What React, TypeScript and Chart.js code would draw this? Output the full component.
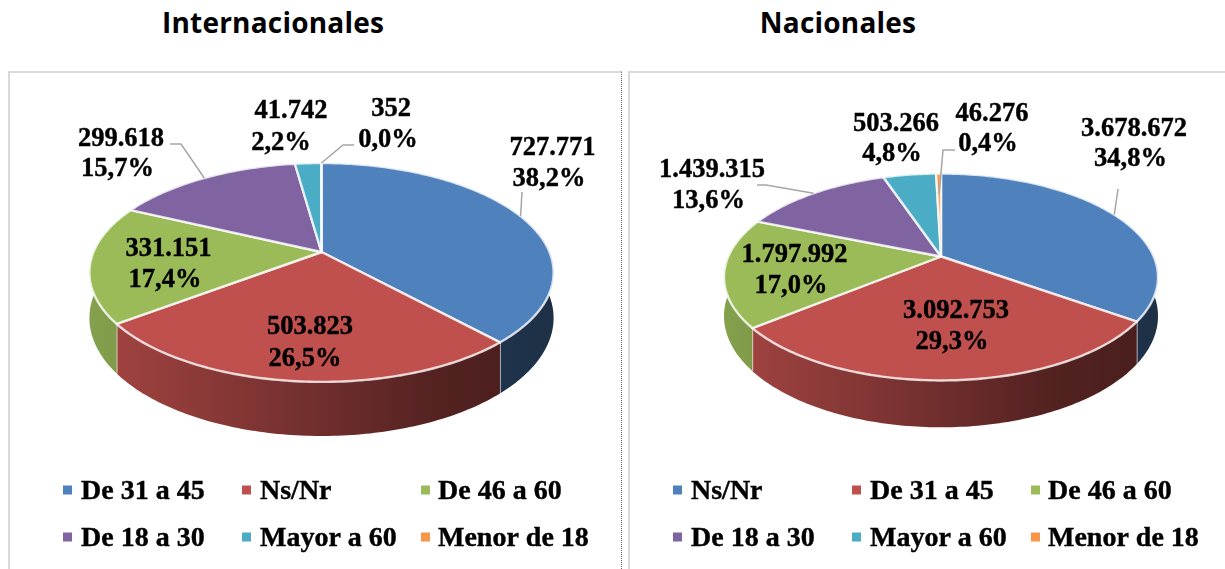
import React, { useEffect, useRef } from "react";
import { Chart, registerables, PieController } from "chart.js";

const labelsIntl = ["De 31 a 45", "Ns/Nr", "De 46 a 60", "De 18 a 30", "Mayor a 60", "Menor de 18"];
const valuesIntl = [727771, 503823, 331151, 299618, 41742, 352];
const labelsNac = ["Ns/Nr", "De 31 a 45", "De 46 a 60", "De 18 a 30", "Mayor a 60", "Menor de 18"];
const valuesNac = [3678672, 3092753, 1797992, 1439315, 503266, 46276];
const sliceColors = ["#4F81BD", "#C0504D", "#9BBB59", "#8064A2", "#4BACC6", "#F79646"];

type LabelPos = [number, number, number, number];
type Leader = { slice: number; radial: number; elbows: [number, number][] };
type Panel = {
  left: number; width: number; cx: number; cy: number; rx: number; a: number; k: number; depth: number;
  labelPos: LabelPos[]; leaders: Leader[]; legendMarkX: number[]; legendTextX: number[]; legendY: number[];
};

const panelIntl: Panel = {
  left: 0, width: 625, cx: 321.5, cy: 252, rx: 228, a: 105.6, k: 0.187, depth: 44,
  labelPos: [
    [552.5, 146, 549, 177], [310, 325, 305, 357], [168.5, 247, 165, 278],
    [121, 137, 117.5, 167], [291, 109, 281, 141], [391, 107, 388, 138],
  ],
  leaders: [
    { slice: 0, radial: 1, elbows: [[522, 192]] },
    { slice: 3, radial: 1, elbows: [[181, 144], [170, 144]] },
    { slice: 5, radial: 1, elbows: [[343, 145], [354, 145]] },
  ],
  legendMarkX: [63, 242, 421], legendTextX: [81, 260, 438], legendY: [490, 537],
};
const panelNac: Panel = {
  left: 625, width: 600, cx: 941, cy: 256.5, rx: 212.7, a: 99.4, k: 0.198, depth: 37.6,
  labelPos: [
    [1134, 127, 1130.5, 157], [956, 309, 952, 340], [794.5, 253, 791, 284],
    [712, 168, 708.5, 199], [896, 122, 892, 152], [992, 112, 988, 142],
  ],
  leaders: [
    { slice: 0, radial: 1, elbows: [[1118, 189]] },
    { slice: 3, radial: 1, elbows: [[766, 185], [757, 185]] },
    { slice: 5, radial: 0.72, elbows: [[943, 150], [955, 150]] },
  ],
  legendMarkX: [673, 852, 1031], legendTextX: [691, 870, 1048], legendY: [490, 537],
};

const project = (p: Panel, angle: number, r: number, drop = 0): [number, number] => {
  const u = Math.cos(angle) * r;
  const v = Math.sin(angle) * r;
  const w = 1 - p.k * v;
  return [p.cx - p.left + (p.rx * u) / w, p.cy + (p.a * v) / w + drop / w];
};

const shade = (hex: string, f: number) => {
  const n = parseInt(hex.slice(1), 16);
  return `rgb(${Math.round(((n >> 16) & 255) * f)},${Math.round(((n >> 8) & 255) * f)},${Math.round((n & 255) * f)})`;
};

class Pie3DController extends PieController {
  static id = "pie3d";
  draw() {
    const chart = this.chart as any;
    const p: Panel = chart.options.plugins.pie3dPanel;
    const ctx: CanvasRenderingContext2D = chart.ctx;
    const arcs = this._cachedMeta.data as any[];
    const colors = chart.data.datasets[0].backgroundColor as string[];
    const edge = "rgba(255,255,255,0.78)";
    const xL = p.cx - p.left - p.rx * 1.02;
    const xR = p.cx - p.left + p.rx * 1.02;
    ctx.save();
    ctx.lineJoin = "round";
    arcs.forEach((arc, i) => {
      const a0 = Math.max(arc.startAngle, -0.19);
      const a1 = Math.min(arc.endAngle, Math.PI + 0.19);
      if (a1 <= a0) return;
      const pts: [number, number][] = [];
      const steps = Math.max(2, Math.ceil((a1 - a0) * 60));
      for (let s = 0; s <= steps; s++) pts.push(project(p, a0 + ((a1 - a0) * s) / steps, 1));
      const low: [number, number][] = [];
      for (let s = steps; s >= 0; s--) low.push(project(p, a0 + ((a1 - a0) * s) / steps, 1, p.depth));
      const g = ctx.createLinearGradient(xL, 0, xR, 0);
      g.addColorStop(0, shade(colors[i], 0.86));
      g.addColorStop(0.5, shade(colors[i], 0.58));
      g.addColorStop(0.75, shade(colors[i], 0.43));
      g.addColorStop(1, shade(colors[i], 0.37));
      ctx.beginPath();
      [...pts, ...low].forEach(([x, y], j) => (j ? ctx.lineTo(x, y) : ctx.moveTo(x, y)));
      ctx.closePath();
      ctx.fillStyle = g;
      ctx.fill();
      if (a1 === arc.endAngle && a1 < Math.PI) {
        ctx.beginPath();
        ctx.moveTo(...pts[pts.length - 1]);
        ctx.lineTo(...low[0]);
        ctx.strokeStyle = edge;
        ctx.lineWidth = 1.5;
        ctx.stroke();
      }
    });
    arcs.forEach((arc, i) => {
      const span = arc.endAngle - arc.startAngle;
      const steps = Math.max(2, Math.ceil(span * 60));
      ctx.beginPath();
      ctx.moveTo(...project(p, 0, 0));
      for (let s = 0; s <= steps; s++) ctx.lineTo(...project(p, arc.startAngle + (span * s) / steps, 1));
      ctx.closePath();
      ctx.fillStyle = colors[i];
      ctx.fill();
      ctx.strokeStyle = edge;
      ctx.lineWidth = 2.4;
      ctx.stroke();
    });
    ctx.restore();
  }
}

Chart.register(...registerables, Pie3DController);

const fmtValue = (v: number) => String(v).replace(/\B(?=(\d{3})+(?!\d))/g, ".");
const fmtPct = (v: number, total: number) => ((v / total) * 100).toFixed(1).replace(".", ",") + "%";

const overlay = {
  id: "pieOverlay",
  afterDatasetsDraw(chart: any) {
    const p: Panel = chart.options.plugins.pie3dPanel;
    const ctx: CanvasRenderingContext2D = chart.ctx;
    const arcs = chart.getDatasetMeta(0).data;
    const data: number[] = chart.data.datasets[0].data;
    const colors: string[] = chart.data.datasets[0].backgroundColor;
    const total = data.reduce((s, v) => s + v, 0);
    const heavyText = (text: string, x: number, y: number) => {
      ctx.strokeText(text, x, y);
      ctx.fillText(text, x, y);
    };
    ctx.save();
    ctx.strokeStyle = "#a6a6a6";
    ctx.lineWidth = 1.5;
    p.leaders.forEach((l) => {
      const arc = arcs[l.slice];
      const [x, y] = project(p, (arc.startAngle + arc.endAngle) / 2, l.radial);
      ctx.beginPath();
      ctx.moveTo(x, y);
      l.elbows.forEach(([ex, ey]) => ctx.lineTo(ex - p.left, ey));
      ctx.stroke();
    });
    ctx.fillStyle = "#000";
    ctx.strokeStyle = "#000";
    ctx.lineWidth = 0.4;
    ctx.font = 'bold 26.5px "Liberation Serif"';
    ctx.textAlign = "center";
    ctx.textBaseline = "alphabetic";
    data.forEach((v, i) => {
      const [x1, y1, x2, y2] = p.labelPos[i];
      heavyText(fmtValue(v), x1 - p.left, y1 + 9);
      heavyText(fmtPct(v, total), x2 - p.left, y2 + 9);
    });
    ctx.textAlign = "left";
    ctx.font = 'bold 28px "Liberation Serif"';
    chart.data.labels.forEach((label: string, i: number) => {
      const col = i % 3;
      const y = p.legendY[Math.floor(i / 3)];
      ctx.fillStyle = colors[i];
      ctx.fillRect(p.legendMarkX[col] - p.left, y - 4.5, 9, 9);
      ctx.fillStyle = "#000";
      heavyText(label, p.legendTextX[col] - p.left, y + 9);
    });
    ctx.restore();
  },
};

function PieChart({ panel, labels, values }: { panel: Panel; labels: string[]; values: number[] }) {
  const ref = useRef<HTMLCanvasElement>(null);
  useEffect(() => {
    const chart = new Chart(ref.current!, {
      type: "pie3d" as any,
      data: { labels, datasets: [{ data: values, backgroundColor: sliceColors, borderWidth: 0 }] },
      options: {
        responsive: false,
        animation: false,
        events: [],
        plugins: { legend: { display: false }, tooltip: { enabled: false }, pie3dPanel: panel } as any,
      },
      plugins: [overlay],
    } as any);
    return () => chart.destroy();
  }, []);
  return (
    <canvas
      ref={ref}
      width={panel.width}
      height={569}
      style={{ position: "absolute", left: panel.left, top: 0, width: panel.width, height: 569 }}
    />
  );
}

const titleStyle: React.CSSProperties = {
  position: "absolute", top: 4, height: 36, lineHeight: "36px", textAlign: "center", color: "#000",
  fontFamily: "Open Sans", fontWeight: 700, fontSize: 28, letterSpacing: 0.2, whiteSpace: "nowrap",
};
const frame = "2px solid #d9d9d9";

export default function App() {
  return (
    <div style={{ position: "fixed", left: 0, top: 0, width: 1225, height: 569, overflow: "hidden", background: "#fff" }}>
      <div style={{ ...titleStyle, left: 123, width: 300 }}>Internacionales</div>
      <div style={{ ...titleStyle, left: 688, width: 300 }}>Nacionales</div>
      <div style={{ position: "absolute", left: 8, top: 71, width: 611, height: 520, borderLeft: frame, borderTop: frame, borderRight: "1px dotted #666" }} />
      <div style={{ position: "absolute", left: 628, top: 71, width: 610, height: 520, borderLeft: frame, borderTop: frame }} />
      <PieChart panel={panelIntl} labels={labelsIntl} values={valuesIntl} />
      <PieChart panel={panelNac} labels={labelsNac} values={valuesNac} />
    </div>
  );
}
